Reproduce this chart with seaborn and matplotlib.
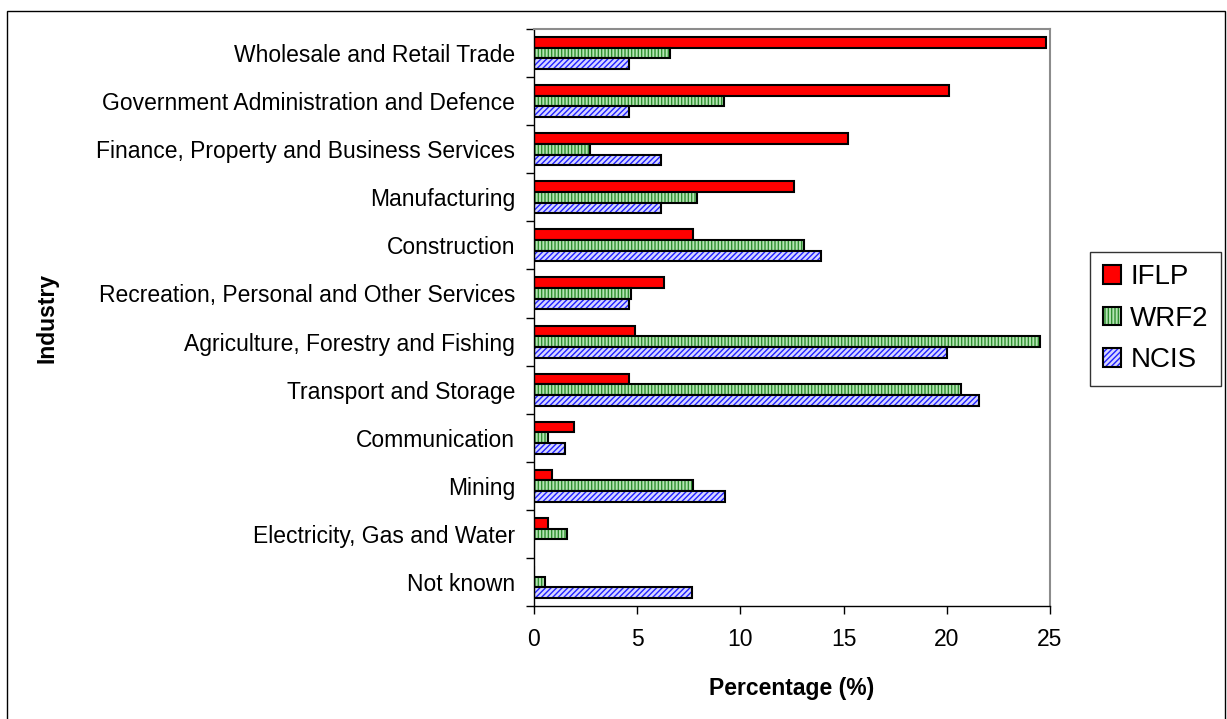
import pandas as pd
import seaborn as sns
import matplotlib.pyplot as plt
import matplotlib.colors as mcolors
from matplotlib.patches import Patch, Rectangle
from matplotlib.ticker import FixedLocator

# Data
industries = [
    "Wholesale and Retail Trade",
    "Government Administration and Defence",
    "Finance, Property and Business Services",
    "Manufacturing",
    "Construction",
    "Recreation, Personal and Other Services",
    "Agriculture, Forestry and Fishing",
    "Transport and Storage",
    "Communication",
    "Mining",
    "Electricity, Gas and Water",
    "Not known",
]
sources = ["IFLP", "WRF2", "NCIS"]
iflp = [24.8, 20.1, 15.2, 12.6, 7.7, 6.3, 4.9, 4.6, 1.95, 0.88, 0.69, 0.0]
wrf2 = [6.6, 9.2, 2.7, 7.9, 13.1, 4.7, 24.5, 20.7, 0.69, 7.7, 1.6, 0.52]
ncis = [4.6, 4.6, 6.15, 6.15, 13.9, 4.6, 20.0, 21.55, 1.5, 9.26, 0.0, 7.66]
x_ticks = [0, 5, 10, 15, 20, 25]

df = pd.DataFrame({
    "Industry": industries * 3,
    "Percentage": iflp + wrf2 + ncis,
    "Source": [s for s in sources for _ in industries],
})

# Styles
face = {"IFLP": "#ff0000", "WRF2": "#b4e4b4", "NCIS": "#d6d6ff"}
hatch = {"IFLP": "", "WRF2": "|||||", "NCIS": "//////"}
hatch_col = {"IFLP": "black", "WRF2": "#2f8f2f", "NCIS": "#2020ff"}

sns.set_style("white")
plt.rcParams["font.family"] = ["Liberation Sans", "DejaVu Sans"]
plt.rcParams["hatch.linewidth"] = 1.0
for k in ["text.color", "axes.labelcolor", "xtick.color", "ytick.color"]:
    plt.rcParams[k] = "black"

fig = plt.figure(figsize=(12.27, 7.19), dpi=100)
ax = fig.add_axes([534 / 1227, 1 - 606 / 719, 516 / 1227, 577 / 719])

sns.barplot(
    data=df, x="Percentage", y="Industry", hue="Source",
    hue_order=sources, order=industries, orient="h",
    palette=face, saturation=1, width=0.667, errorbar=None,
    edgecolor="black", linewidth=1.5, legend=False, ax=ax,
)


def set_hatch(p, src):
    p.set_hatch(hatch[src])
    p.set_edgecolor("black")
    if hasattr(p, "set_hatchcolor"):
        p.set_hatchcolor(hatch_col[src])
    else:
        p._hatch_color = mcolors.to_rgba(hatch_col[src])


for src, cont in zip(sources, ax.containers):
    for p in cont.patches:
        set_hatch(p, src)

ax.set_xlim(0, 25)
ax.set_ylim(len(industries) - 0.5, -0.5)
ax.xaxis.set_major_locator(FixedLocator(x_ticks))

# category boundaries get the tick marks, labels sit in the middle
ax.yaxis.set_minor_locator(FixedLocator([i - 0.5 for i in range(len(industries) + 1)]))
ax.tick_params(axis="y", which="major", length=0, pad=13.5, labelsize=16.5)
ax.tick_params(axis="y", which="minor", left=True, length=5.5, width=1, color="black", direction="out")
ax.tick_params(axis="x", which="major", bottom=True, length=5.5, width=1, color="black",
               direction="out", pad=10.5, labelsize=16.5)

for side in ["left", "bottom"]:
    ax.spines[side].set_color("black")
    ax.spines[side].set_linewidth(1.0)
for side in ["top", "right"]:
    ax.spines[side].set_visible(True)
    ax.spines[side].set_color("#8c8c8c")
    ax.spines[side].set_linewidth(1.5)

ax.set_xlabel("Percentage (%)", fontsize=16.5, fontweight="bold")
ax.set_ylabel("Industry", fontsize=16.5, fontweight="bold")
ax.xaxis.set_label_coords(0.5, (606 - 689) / 577)
ax.xaxis.label.set_verticalalignment("center")
ax.yaxis.set_label_coords((47 - 534) / 516, 0.5)
ax.yaxis.label.set_verticalalignment("center")

# legend
handles = []
for src in sources:
    h = Patch(facecolor=face[src], edgecolor="black", linewidth=1.5, label=src)
    set_hatch(h, src)
    handles.append(h)
leg = fig.legend(
    handles=handles, loc="upper left", bbox_to_anchor=(1090 / 1227, 1 - 252 / 719),
    fontsize=20, frameon=True, fancybox=False, handlelength=0.65, handleheight=0.65,
    handletextpad=0.35, labelspacing=0.55, borderpad=0.45, borderaxespad=0,
)
leg.get_frame().set_edgecolor("black")
leg.get_frame().set_linewidth(1.0)

# outer frame of the chart area
fig.add_artist(Rectangle((7 / 1227, -0.02), 1218 / 1227, 1.02 - 10.5 / 719,
                         transform=fig.transFigure, fill=False,
                         edgecolor="black", linewidth=1.0))

fig.savefig("out.png", dpi=100)
plt.close(fig)
